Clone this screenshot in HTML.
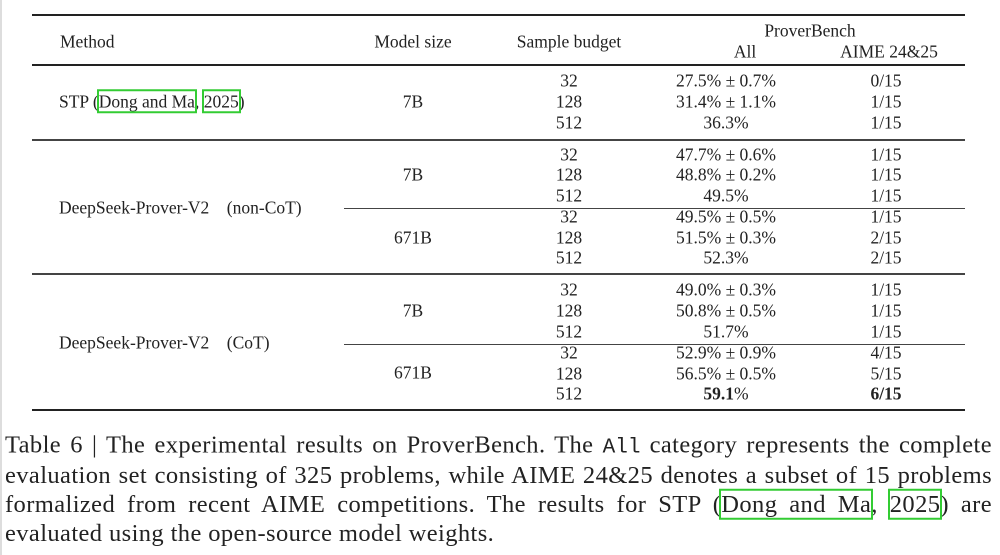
<!DOCTYPE html>
<html><head><meta charset="utf-8"><style>
body{margin:0;width:1000px;height:555px;background:#fff;position:relative;overflow:hidden;font-family:"Liberation Serif",serif;color:#222}
.t{position:absolute;font-size:17.5px;white-space:nowrap;transform:translate(-50%,-50%);line-height:1}
.l{position:absolute;font-size:17.5px;white-space:nowrap;transform:translateY(-50%);line-height:1}
.r{position:absolute;left:32px;width:933px;background:#222}
.ri{position:absolute;left:344px;width:621px;height:1px;background:#444}
.cl{position:absolute;left:5px;width:987px;font-size:24.5px;letter-spacing:0.4px;line-height:1;text-align:justify;text-align-last:justify;color:#222;transform:translateY(-50%)}
.g{outline:2px solid #3c3;outline-offset:0}
.mono{font-family:"Liberation Mono",monospace;font-size:21px;letter-spacing:0}
</style></head><body>
<div style="position:absolute;left:0;top:0;width:2px;height:555px;background:#ddd"></div>
<div class="r" style="top:14px;height:2px"></div>
<div class="r" style="top:64px;height:2px"></div>
<div class="r" style="top:139px;height:1.5px;background:#444"></div>
<div class="r" style="top:273px;height:1.5px;background:#444"></div>
<div class="r" style="top:409px;height:2px"></div>
<div class="ri" style="top:208px"></div>
<div class="ri" style="top:344px"></div>

<div class="l" style="left:60px;top:42px">Method</div>
<div class="t" style="left:413px;top:42px">Model size</div>
<div class="t" style="left:569px;top:42px">Sample budget</div>
<div class="t" style="left:810px;top:31px">ProverBench</div>
<div class="t" style="left:745px;top:52px">All</div>
<div class="t" style="left:889px;top:52px">AIME 24&amp;25</div>

<div class="l" style="left:59px;top:102px">STP (<span class="g">Dong and Ma</span>, <span class="g">2025</span>)</div>
<div class="l" style="left:59px;top:208px">DeepSeek-Prover-V2&nbsp;&nbsp;&nbsp; (non-CoT)</div>
<div class="l" style="left:59px;top:343px">DeepSeek-Prover-V2&nbsp;&nbsp;&nbsp; (CoT)</div>

<div class="t" style="left:413px;top:102px">7B</div>
<div class="t" style="left:413px;top:175px">7B</div>
<div class="t" style="left:413px;top:238px">671B</div>
<div class="t" style="left:413px;top:311px">7B</div>
<div class="t" style="left:413px;top:373px">671B</div>

<div class="t" style="left:569px;top:81px">32</div><div class="t" style="left:726px;top:81px">27.5% ± 0.7%</div><div class="t" style="left:886px;top:81px">0/15</div>
<div class="t" style="left:569px;top:102px">128</div><div class="t" style="left:726px;top:102px">31.4% ± 1.1%</div><div class="t" style="left:886px;top:102px">1/15</div>
<div class="t" style="left:569px;top:123px">512</div><div class="t" style="left:726px;top:123px">36.3%</div><div class="t" style="left:886px;top:123px">1/15</div>

<div class="t" style="left:569px;top:155px">32</div><div class="t" style="left:726px;top:155px">47.7% ± 0.6%</div><div class="t" style="left:886px;top:155px">1/15</div>
<div class="t" style="left:569px;top:175px">128</div><div class="t" style="left:726px;top:175px">48.8% ± 0.2%</div><div class="t" style="left:886px;top:175px">1/15</div>
<div class="t" style="left:569px;top:196px">512</div><div class="t" style="left:726px;top:196px">49.5%</div><div class="t" style="left:886px;top:196px">1/15</div>
<div class="t" style="left:569px;top:217px">32</div><div class="t" style="left:726px;top:217px">49.5% ± 0.5%</div><div class="t" style="left:886px;top:217px">1/15</div>
<div class="t" style="left:569px;top:238px">128</div><div class="t" style="left:726px;top:238px">51.5% ± 0.3%</div><div class="t" style="left:886px;top:238px">2/15</div>
<div class="t" style="left:569px;top:258px">512</div><div class="t" style="left:726px;top:258px">52.3%</div><div class="t" style="left:886px;top:258px">2/15</div>

<div class="t" style="left:569px;top:290px">32</div><div class="t" style="left:726px;top:290px">49.0% ± 0.3%</div><div class="t" style="left:886px;top:290px">1/15</div>
<div class="t" style="left:569px;top:311px">128</div><div class="t" style="left:726px;top:311px">50.8% ± 0.5%</div><div class="t" style="left:886px;top:311px">1/15</div>
<div class="t" style="left:569px;top:332px">512</div><div class="t" style="left:726px;top:332px">51.7%</div><div class="t" style="left:886px;top:332px">1/15</div>
<div class="t" style="left:569px;top:353px">32</div><div class="t" style="left:726px;top:353px">52.9% ± 0.9%</div><div class="t" style="left:886px;top:353px">4/15</div>
<div class="t" style="left:569px;top:374px">128</div><div class="t" style="left:726px;top:374px">56.5% ± 0.5%</div><div class="t" style="left:886px;top:374px">5/15</div>
<div class="t" style="left:569px;top:394px">512</div><div class="t" style="left:726px;top:394px"><b>59.1</b>%</div><div class="t" style="left:886px;top:394px"><b>6/15</b></div>

<div class="cl" style="top:446px">Table 6 | The experimental results on ProverBench. The <span class="mono">All</span> category represents the&nbsp;complete</div>
<div class="cl" style="top:476px">evaluation set consisting of 325 problems, while AIME 24&amp;25 denotes a subset of 15&nbsp;problems</div>
<div class="cl" style="top:505px">formalized from recent AIME competitions. The results for STP (<span class="g">Dong and Ma</span>, <span class="g">2025</span>)&nbsp;are</div>
<div class="cl" style="top:534px;text-align-last:left">evaluated using the open-source model weights.</div>
</body></html>
